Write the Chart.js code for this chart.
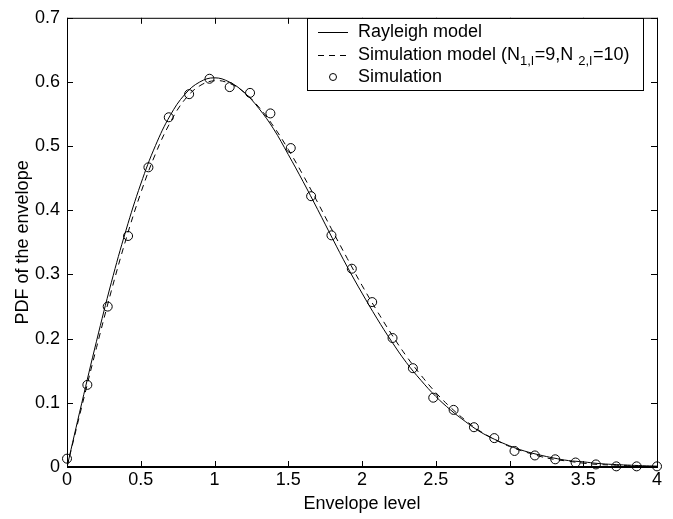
<!DOCTYPE html>
<html>
<head>
<meta charset="utf-8">
<script src="https://cdn.jsdelivr.net/npm/chart.js@4/dist/chart.umd.min.js"></script>
<style>
  html, body { margin: 0; padding: 0; background: #fff; }
  #wrap { width: 673px; height: 519px; }
</style>
</head>
<body>
<div id="wrap"><canvas id="pdf" width="673" height="519"></canvas></div>
<script>
// envelope levels for the model curves
const levels = [0, 0.1, 0.2, 0.3, 0.4, 0.5, 0.6, 0.7, 0.8, 0.9, 1.0, 1.1, 1.2, 1.3, 1.4, 1.5, 1.6, 1.7, 1.8, 1.9,
  2.0, 2.1, 2.2, 2.3, 2.4, 2.5, 2.6, 2.7, 2.8, 2.9, 3.0, 3.1, 3.2, 3.3, 3.4, 3.5, 3.6, 3.7, 3.8, 3.9, 4.0];

const rayleigh = [0, 0.0995, 0.196, 0.287, 0.369, 0.441, 0.501, 0.548, 0.581, 0.600, 0.6065, 0.600, 0.584, 0.559,
  0.527, 0.487, 0.445, 0.401, 0.356, 0.312, 0.271, 0.232, 0.196, 0.163, 0.135, 0.110, 0.089, 0.071, 0.055, 0.043,
  0.033, 0.025, 0.019, 0.014, 0.010, 0.008, 0.0055, 0.004, 0.003, 0.002, 0.0013];

const simModel = [0, 0.094, 0.186, 0.274, 0.355, 0.427, 0.488, 0.537, 0.573, 0.594, 0.602, 0.598, 0.584, 0.561,
  0.531, 0.495, 0.455, 0.412, 0.368, 0.325, 0.283, 0.244, 0.207, 0.173, 0.143, 0.116, 0.093, 0.073, 0.056, 0.043,
  0.032, 0.024, 0.017, 0.012, 0.009, 0.006, 0.004, 0.003, 0.002, 0.001, 0.001];

// simulation points
const simX = [0, 0.138, 0.276, 0.414, 0.552, 0.690, 0.828, 0.966, 1.103, 1.241, 1.379, 1.517, 1.655, 1.793, 1.931,
  2.069, 2.207, 2.345, 2.483, 2.621, 2.759, 2.897, 3.034, 3.172, 3.310, 3.448, 3.586, 3.724, 3.862, 4.0];
const simY = [0.013, 0.128, 0.250, 0.360, 0.467, 0.545, 0.581, 0.605, 0.592, 0.583, 0.551, 0.497, 0.422, 0.361, 0.309,
  0.257, 0.201, 0.154, 0.108, 0.089, 0.062, 0.045, 0.025, 0.018, 0.012, 0.007, 0.004, 0.001, 0.001, 0.001];

const xTicks = [0, 0.5, 1, 1.5, 2, 2.5, 3, 3.5, 4];
const yTicks = [0, 0.1, 0.2, 0.3, 0.4, 0.5, 0.6, 0.7];

const FONT = '"Liberation Sans", Arial, Helvetica, sans-serif';

// box frame with inward ticks on all four sides (matlab style)
const framePlugin = {
  id: 'frame',
  afterDraw(chart) {
    const { ctx, chartArea: a, scales } = chart;
    ctx.save();
    ctx.strokeStyle = '#000';
    ctx.lineWidth = 1;
    ctx.strokeRect(a.left + 0.5, a.top + 0.5, a.right - a.left, a.bottom - a.top);
    ctx.lineWidth = 2;
    ctx.beginPath();
    ctx.moveTo(a.left, a.bottom);
    ctx.lineTo(a.right + 1, a.bottom);
    ctx.stroke();
    ctx.lineWidth = 1;
    ctx.beginPath();
    xTicks.forEach(v => {
      const px = Math.round(scales.x.getPixelForValue(v)) + 0.5;
      ctx.moveTo(px, a.bottom); ctx.lineTo(px, a.bottom - 6);
      ctx.moveTo(px, a.top); ctx.lineTo(px, a.top + 6);
    });
    yTicks.forEach(v => {
      const py = Math.round(scales.y.getPixelForValue(v)) + 0.5;
      ctx.moveTo(a.left, py); ctx.lineTo(a.left + 6, py);
      ctx.moveTo(a.right, py); ctx.lineTo(a.right - 6, py);
    });
    ctx.stroke();
    ctx.restore();
  }
};

// legend drawn by hand because of the subscripts
const legendPlugin = {
  id: 'boxLegend',
  afterDraw(chart) {
    const ctx = chart.ctx;
    const bx = 307, by = 18, bw = 336, bh = 72;
    ctx.save();
    ctx.fillStyle = '#fff';
    ctx.fillRect(bx, by, bw, bh);
    ctx.strokeStyle = '#000';
    ctx.lineWidth = 1;
    ctx.strokeRect(bx + 0.5, by + 0.5, bw, bh);

    const rows = [32, 55, 77];
    ctx.beginPath();
    ctx.moveTo(318, rows[0] + 0.5); ctx.lineTo(348, rows[0] + 0.5);
    ctx.stroke();
    ctx.setLineDash([6, 5]);
    ctx.beginPath();
    ctx.moveTo(318, rows[1] + 0.5); ctx.lineTo(348, rows[1] + 0.5);
    ctx.stroke();
    ctx.setLineDash([]);
    ctx.beginPath();
    ctx.arc(333, rows[2], 3.5, 0, Math.PI * 2);
    ctx.stroke();

    ctx.fillStyle = '#000';
    ctx.textBaseline = 'middle';
    ctx.textAlign = 'left';
    const big = '18px ' + FONT, small = '13px ' + FONT;
    ctx.font = big;
    ctx.fillText('Rayleigh model', 358, rows[0]);
    ctx.fillText('Simulation', 358, rows[2]);

    const parts = [['Simulation model (N', big, 0], ['1,l', small, 6], ['=9,N ', big, 0], ['2,l', small, 6], ['=10)', big, 0]];
    let x = 358;
    parts.forEach(([t, f, dy]) => {
      ctx.font = f;
      ctx.fillText(t, x, rows[1] + dy);
      x += ctx.measureText(t).width + (f === small ? 1 : 0);
    });
    ctx.restore();
  }
};

const config = {
  type: 'line',
  data: {
    datasets: [
      {
        label: 'Rayleigh model',
        data: levels.map((x, i) => ({ x: x, y: rayleigh[i] })),
        borderColor: '#000',
        borderWidth: 1,
        pointRadius: 0,
        tension: 0.4,
        fill: false
      },
      {
        label: 'Simulation model',
        data: levels.map((x, i) => ({ x: x, y: simModel[i] })),
        borderColor: '#000',
        borderWidth: 1,
        borderDash: [6, 5],
        pointRadius: 0,
        tension: 0.4,
        fill: false
      },
      {
        label: 'Simulation',
        data: simX.map((x, i) => ({ x: x, y: simY[i] })),
        showLine: false,
        pointStyle: 'circle',
        pointRadius: 4.5,
        pointBorderWidth: 1,
        pointBorderColor: '#000',
        pointBackgroundColor: 'rgba(0,0,0,0)',
        clip: false
      }
    ]
  },
  options: {
    responsive: false,
    animation: false,
    layout: { padding: { top: 13, right: 16, left: 0, bottom: 0 } },
    plugins: {
      legend: { display: false },
      tooltip: { enabled: false }
    },
    scales: {
      x: {
        type: 'linear',
        min: 0,
        max: 4,
        afterBuildTicks: s => { s.ticks = xTicks.map(v => ({ value: v })); },
        afterFit: s => { s.height = 52; },
        grid: { display: false, drawTicks: false },
        border: { display: false },
        ticks: { color: '#000', font: { family: FONT, size: 18 }, padding: 2, maxRotation: 0,
          callback: v => String(v) },
        title: { display: true, text: 'Envelope level', color: '#000', font: { family: FONT, size: 18 }, padding: { top: 0 } }
      },
      y: {
        type: 'linear',
        min: 0,
        max: 0.7,
        afterBuildTicks: s => { s.ticks = yTicks.map(v => ({ value: v })); },
        afterFit: s => { s.width = 67; },
        grid: { display: false, drawTicks: false },
        border: { display: false },
        ticks: { color: '#000', font: { family: FONT, size: 18 }, padding: 7,
          callback: v => String(v) },
        title: { display: true, text: 'PDF of the envelope', color: '#000', font: { family: FONT, size: 18 }, padding: { top: 12 } }
      }
    }
  },
  plugins: [framePlugin, legendPlugin]
};

var ctx = document.getElementById('pdf');
var chart = new Chart(ctx, config);
</script>
</body>
</html>
